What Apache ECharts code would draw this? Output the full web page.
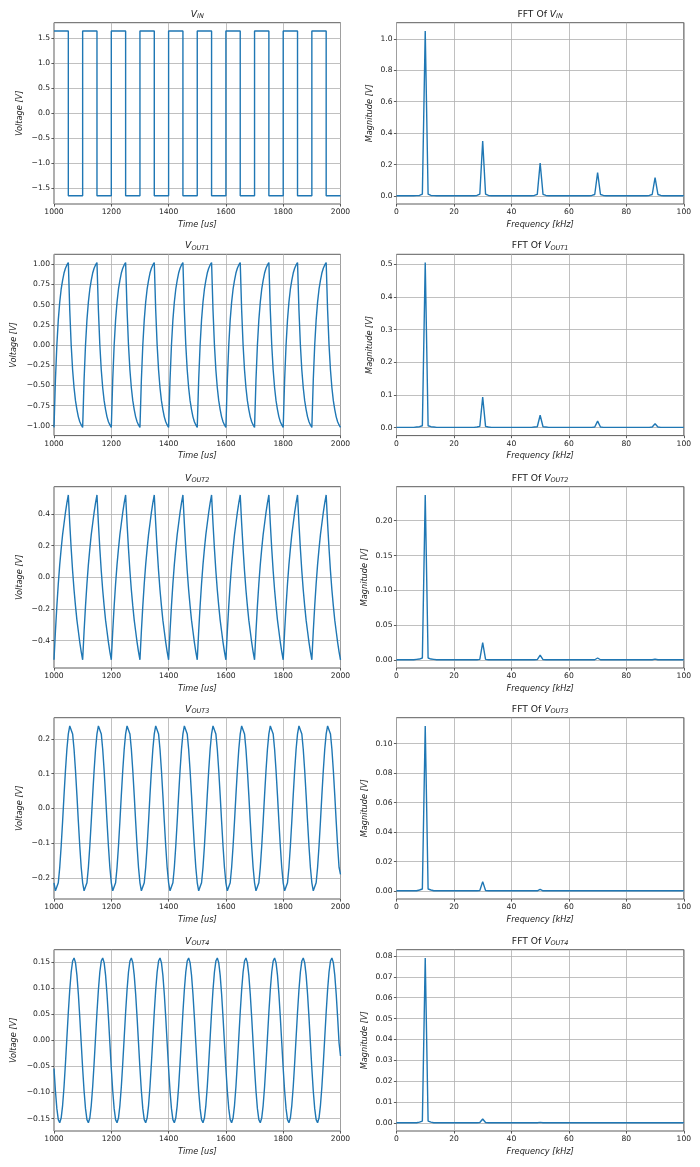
<!DOCTYPE html>
<html><head><meta charset="utf-8">
<script src="https://cdn.jsdelivr.net/npm/echarts@6/dist/echarts.min.js"></script>
<style>html,body{margin:0;padding:0;background:#fff}#c{width:700px;height:1167px}</style>
</head><body><div id="c"></div>
<script>
// ---------- time-domain data (us, V) ----------
const timeUs = [
1000,1005,1010,1015,1020,1025,1030,1035,1040,1045,1050,1055,1060,1065,1070,1075,1080,1085,1090,1095,
1100,1105,1110,1115,1120,1125,1130,1135,1140,1145,1150,1155,1160,1165,1170,1175,1180,1185,1190,1195,
1200,1205,1210,1215,1220,1225,1230,1235,1240,1245,1250,1255,1260,1265,1270,1275,1280,1285,1290,1295,
1300,1305,1310,1315,1320,1325,1330,1335,1340,1345,1350,1355,1360,1365,1370,1375,1380,1385,1390,1395,
1400,1405,1410,1415,1420,1425,1430,1435,1440,1445,1450,1455,1460,1465,1470,1475,1480,1485,1490,1495,
1500,1505,1510,1515,1520,1525,1530,1535,1540,1545,1550,1555,1560,1565,1570,1575,1580,1585,1590,1595,
1600,1605,1610,1615,1620,1625,1630,1635,1640,1645,1650,1655,1660,1665,1670,1675,1680,1685,1690,1695,
1700,1705,1710,1715,1720,1725,1730,1735,1740,1745,1750,1755,1760,1765,1770,1775,1780,1785,1790,1795,
1800,1805,1810,1815,1820,1825,1830,1835,1840,1845,1850,1855,1860,1865,1870,1875,1880,1885,1890,1895,
1900,1905,1910,1915,1920,1925,1930,1935,1940,1945,1950,1955,1960,1965,1970,1975,1980,1985,1990,1995,
2000];

const vinEdgeTimes = [1000,1050,1100,1150,1200,1250,1300,1350,1400,1450,1500,1550,1600,1650,1700,1750,1800,1850,1900,1950,2000];
const vinLevels = [1.65,-1.65,1.65,-1.65,1.65,-1.65,1.65,-1.65,1.65,-1.65,1.65,-1.65,1.65,-1.65,1.65,-1.65,1.65,-1.65,1.65,-1.65,-1.65];

const vout1 = [
-1.02,-0.43,0.00,0.31,0.53,0.69,0.80,0.89,0.95,0.99,1.02,0.43,0.00,-0.31,-0.53,-0.69,-0.80,-0.89,-0.95,-0.99,
-1.02,-0.43,0.00,0.31,0.53,0.69,0.80,0.89,0.95,0.99,1.02,0.43,0.00,-0.31,-0.53,-0.69,-0.80,-0.89,-0.95,-0.99,
-1.02,-0.43,0.00,0.31,0.53,0.69,0.80,0.89,0.95,0.99,1.02,0.43,0.00,-0.31,-0.53,-0.69,-0.80,-0.89,-0.95,-0.99,
-1.02,-0.43,0.00,0.31,0.53,0.69,0.80,0.89,0.95,0.99,1.02,0.43,0.00,-0.31,-0.53,-0.69,-0.80,-0.89,-0.95,-0.99,
-1.02,-0.43,0.00,0.31,0.53,0.69,0.80,0.89,0.95,0.99,1.02,0.43,0.00,-0.31,-0.53,-0.69,-0.80,-0.89,-0.95,-0.99,
-1.02,-0.43,0.00,0.31,0.53,0.69,0.80,0.89,0.95,0.99,1.02,0.43,0.00,-0.31,-0.53,-0.69,-0.80,-0.89,-0.95,-0.99,
-1.02,-0.43,0.00,0.31,0.53,0.69,0.80,0.89,0.95,0.99,1.02,0.43,0.00,-0.31,-0.53,-0.69,-0.80,-0.89,-0.95,-0.99,
-1.02,-0.43,0.00,0.31,0.53,0.69,0.80,0.89,0.95,0.99,1.02,0.43,0.00,-0.31,-0.53,-0.69,-0.80,-0.89,-0.95,-0.99,
-1.02,-0.43,0.00,0.31,0.53,0.69,0.80,0.89,0.95,0.99,1.02,0.43,0.00,-0.31,-0.53,-0.69,-0.80,-0.89,-0.95,-0.99,
-1.02,-0.43,0.00,0.31,0.53,0.69,0.80,0.89,0.95,0.99,1.02,0.43,0.00,-0.31,-0.53,-0.69,-0.80,-0.89,-0.95,-0.99,
-1.02];

const vout2 = [
-0.52,-0.34,-0.18,-0.04,0.08,0.18,0.27,0.34,0.41,0.47,0.52,0.34,0.18,0.04,-0.08,-0.18,-0.27,-0.34,-0.41,-0.47,
-0.52,-0.34,-0.18,-0.04,0.08,0.18,0.27,0.34,0.41,0.47,0.52,0.34,0.18,0.04,-0.08,-0.18,-0.27,-0.34,-0.41,-0.47,
-0.52,-0.34,-0.18,-0.04,0.08,0.18,0.27,0.34,0.41,0.47,0.52,0.34,0.18,0.04,-0.08,-0.18,-0.27,-0.34,-0.41,-0.47,
-0.52,-0.34,-0.18,-0.04,0.08,0.18,0.27,0.34,0.41,0.47,0.52,0.34,0.18,0.04,-0.08,-0.18,-0.27,-0.34,-0.41,-0.47,
-0.52,-0.34,-0.18,-0.04,0.08,0.18,0.27,0.34,0.41,0.47,0.52,0.34,0.18,0.04,-0.08,-0.18,-0.27,-0.34,-0.41,-0.47,
-0.52,-0.34,-0.18,-0.04,0.08,0.18,0.27,0.34,0.41,0.47,0.52,0.34,0.18,0.04,-0.08,-0.18,-0.27,-0.34,-0.41,-0.47,
-0.52,-0.34,-0.18,-0.04,0.08,0.18,0.27,0.34,0.41,0.47,0.52,0.34,0.18,0.04,-0.08,-0.18,-0.27,-0.34,-0.41,-0.47,
-0.52,-0.34,-0.18,-0.04,0.08,0.18,0.27,0.34,0.41,0.47,0.52,0.34,0.18,0.04,-0.08,-0.18,-0.27,-0.34,-0.41,-0.47,
-0.52,-0.34,-0.18,-0.04,0.08,0.18,0.27,0.34,0.41,0.47,0.52,0.34,0.18,0.04,-0.08,-0.18,-0.27,-0.34,-0.41,-0.47,
-0.52,-0.34,-0.18,-0.04,0.08,0.18,0.27,0.34,0.41,0.47,0.52,0.34,0.18,0.04,-0.08,-0.18,-0.27,-0.34,-0.41,-0.47,
-0.52];

const vout3 = [
-0.214,-0.237,-0.237,-0.214,-0.170,-0.109,-0.038,0.038,0.109,0.170,0.214,0.237,0.237,0.214,0.170,0.109,0.038,-0.038,-0.109,-0.170,
-0.214,-0.237,-0.237,-0.214,-0.170,-0.109,-0.038,0.038,0.109,0.170,0.214,0.237,0.237,0.214,0.170,0.109,0.038,-0.038,-0.109,-0.170,
-0.214,-0.237,-0.237,-0.214,-0.170,-0.109,-0.038,0.038,0.109,0.170,0.214,0.237,0.237,0.214,0.170,0.109,0.038,-0.038,-0.109,-0.170,
-0.214,-0.237,-0.237,-0.214,-0.170,-0.109,-0.038,0.038,0.109,0.170,0.214,0.237,0.237,0.214,0.170,0.109,0.038,-0.038,-0.109,-0.170,
-0.214,-0.237,-0.237,-0.214,-0.170,-0.109,-0.038,0.038,0.109,0.170,0.214,0.237,0.237,0.214,0.170,0.109,0.038,-0.038,-0.109,-0.170,
-0.214,-0.237,-0.237,-0.214,-0.170,-0.109,-0.038,0.038,0.109,0.170,0.214,0.237,0.237,0.214,0.170,0.109,0.038,-0.038,-0.109,-0.170,
-0.214,-0.237,-0.237,-0.214,-0.170,-0.109,-0.038,0.038,0.109,0.170,0.214,0.237,0.237,0.214,0.170,0.109,0.038,-0.038,-0.109,-0.170,
-0.214,-0.237,-0.237,-0.214,-0.170,-0.109,-0.038,0.038,0.109,0.170,0.214,0.237,0.237,0.214,0.170,0.109,0.038,-0.038,-0.109,-0.170,
-0.214,-0.237,-0.237,-0.214,-0.170,-0.109,-0.038,0.038,0.109,0.170,0.214,0.237,0.237,0.214,0.170,0.109,0.038,-0.038,-0.109,-0.170,
-0.214,-0.237,-0.237,-0.214,-0.170,-0.109,-0.038,0.038,0.109,0.170,0.214,0.237,0.237,0.214,0.170,0.109,0.038,-0.038,-0.109,-0.170,
-0.190];

const vout4 = [
-0.054,-0.097,-0.131,-0.152,-0.158,-0.149,-0.125,-0.089,-0.044,0.005,0.054,0.097,0.131,0.152,0.158,0.149,0.125,0.089,0.044,-0.005,
-0.054,-0.097,-0.131,-0.152,-0.158,-0.149,-0.125,-0.089,-0.044,0.005,0.054,0.097,0.131,0.152,0.158,0.149,0.125,0.089,0.044,-0.005,
-0.054,-0.097,-0.131,-0.152,-0.158,-0.149,-0.125,-0.089,-0.044,0.005,0.054,0.097,0.131,0.152,0.158,0.149,0.125,0.089,0.044,-0.005,
-0.054,-0.097,-0.131,-0.152,-0.158,-0.149,-0.125,-0.089,-0.044,0.005,0.054,0.097,0.131,0.152,0.158,0.149,0.125,0.089,0.044,-0.005,
-0.054,-0.097,-0.131,-0.152,-0.158,-0.149,-0.125,-0.089,-0.044,0.005,0.054,0.097,0.131,0.152,0.158,0.149,0.125,0.089,0.044,-0.005,
-0.054,-0.097,-0.131,-0.152,-0.158,-0.149,-0.125,-0.089,-0.044,0.005,0.054,0.097,0.131,0.152,0.158,0.149,0.125,0.089,0.044,-0.005,
-0.054,-0.097,-0.131,-0.152,-0.158,-0.149,-0.125,-0.089,-0.044,0.005,0.054,0.097,0.131,0.152,0.158,0.149,0.125,0.089,0.044,-0.005,
-0.054,-0.097,-0.131,-0.152,-0.158,-0.149,-0.125,-0.089,-0.044,0.005,0.054,0.097,0.131,0.152,0.158,0.149,0.125,0.089,0.044,-0.005,
-0.054,-0.097,-0.131,-0.152,-0.158,-0.149,-0.125,-0.089,-0.044,0.005,0.054,0.097,0.131,0.152,0.158,0.149,0.125,0.089,0.044,-0.005,
-0.054,-0.097,-0.131,-0.152,-0.158,-0.149,-0.125,-0.089,-0.044,0.005,0.054,0.097,0.131,0.152,0.158,0.149,0.125,0.089,0.044,-0.005,
-0.030];

// ---------- spectra (kHz, V) ----------
const freqKHz = [
0,1,2,3,4,5,6,7,8,9,10,11,12,13,14,15,16,17,18,19,20,21,22,23,24,25,26,27,28,29,
30,31,32,33,34,35,36,37,38,39,40,41,42,43,44,45,46,47,48,49,50,51,52,53,54,55,56,57,58,59,
60,61,62,63,64,65,66,67,68,69,70,71,72,73,74,75,76,77,78,79,80,81,82,83,84,85,86,87,88,89,
90,91,92,93,94,95,96,97,98,99,100];

const fftVin = [
0.002,0.002,0.002,0.002,0.002,0.002,0.002,0.003,0.004,0.012,
1.05,0.012,0.004,0.003,0.002,0.002,0.002,0.002,0.002,0.002,
0.002,0.002,0.002,0.002,0.002,0.002,0.002,0.002,0.004,0.012,
0.35,0.012,0.004,0.002,0.002,0.002,0.002,0.002,0.002,0.002,
0.002,0.002,0.002,0.002,0.002,0.002,0.002,0.002,0.004,0.011,
0.21,0.011,0.004,0.002,0.002,0.002,0.002,0.002,0.002,0.002,
0.002,0.002,0.002,0.002,0.002,0.002,0.002,0.002,0.004,0.010,
0.15,0.010,0.004,0.002,0.002,0.002,0.002,0.002,0.002,0.002,
0.002,0.002,0.002,0.002,0.002,0.002,0.002,0.002,0.004,0.010,
0.117,0.010,0.004,0.002,0.002,0.002,0.002,0.002,0.002,0.002,
0.002];

const fftVout1 = [
0.001,0.001,0.001,0.001,0.001,0.001,0.001,0.002,0.003,0.006,
0.505,0.006,0.003,0.002,0.001,0.001,0.001,0.001,0.001,0.001,
0.001,0.001,0.001,0.001,0.001,0.001,0.001,0.001,0.002,0.004,
0.094,0.004,0.002,0.001,0.001,0.001,0.001,0.001,0.001,0.001,
0.001,0.001,0.001,0.001,0.001,0.001,0.001,0.001,0.002,0.003,
0.038,0.003,0.002,0.001,0.001,0.001,0.001,0.001,0.001,0.001,
0.001,0.001,0.001,0.001,0.001,0.001,0.001,0.001,0.001,0.002,
0.020,0.002,0.001,0.001,0.001,0.001,0.001,0.001,0.001,0.001,
0.001,0.001,0.001,0.001,0.001,0.001,0.001,0.001,0.001,0.002,
0.012,0.002,0.001,0.001,0.001,0.001,0.001,0.001,0.001,0.001,
0.001];

const fftVout2 = [
0.0005,0.0005,0.0005,0.0005,0.0005,0.0005,0.0005,0.001,0.0015,0.003,
0.237,0.003,0.0015,0.001,0.0005,0.0005,0.0005,0.0005,0.0005,0.0005,
0.0005,0.0005,0.0005,0.0005,0.0005,0.0005,0.0005,0.0005,0.0005,0.001,
0.025,0.001,0.0005,0.0005,0.0005,0.0005,0.0005,0.0005,0.0005,0.0005,
0.0005,0.0005,0.0005,0.0005,0.0005,0.0005,0.0005,0.0005,0.0005,0.0007,
0.007,0.0007,0.0005,0.0005,0.0005,0.0005,0.0005,0.0005,0.0005,0.0005,
0.0005,0.0005,0.0005,0.0005,0.0005,0.0005,0.0005,0.0005,0.0005,0.0005,
0.003,0.0005,0.0005,0.0005,0.0005,0.0005,0.0005,0.0005,0.0005,0.0005,
0.0005,0.0005,0.0005,0.0005,0.0005,0.0005,0.0005,0.0005,0.0005,0.0005,
0.0015,0.0005,0.0005,0.0005,0.0005,0.0005,0.0005,0.0005,0.0005,0.0005,
0.0005];

const fftVout3 = [
0.0003,0.0003,0.0003,0.0003,0.0003,0.0003,0.0003,0.0003,0.0008,0.0015,
0.112,0.0015,0.0008,0.0003,0.0003,0.0003,0.0003,0.0003,0.0003,0.0003,
0.0003,0.0003,0.0003,0.0003,0.0003,0.0003,0.0003,0.0003,0.0003,0.0005,
0.0065,0.0005,0.0003,0.0003,0.0003,0.0003,0.0003,0.0003,0.0003,0.0003,
0.0003,0.0003,0.0003,0.0003,0.0003,0.0003,0.0003,0.0003,0.0003,0.0003,
0.0013,0.0003,0.0003,0.0003,0.0003,0.0003,0.0003,0.0003,0.0003,0.0003,
0.0003,0.0003,0.0003,0.0003,0.0003,0.0003,0.0003,0.0003,0.0003,0.0003,
0.0004,0.0003,0.0003,0.0003,0.0003,0.0003,0.0003,0.0003,0.0003,0.0003,
0.0003,0.0003,0.0003,0.0003,0.0003,0.0003,0.0003,0.0003,0.0003,0.0003,
0.0003,0.0003,0.0003,0.0003,0.0003,0.0003,0.0003,0.0003,0.0003,0.0003,
0.0003];

const fftVout4 = [
0.0002,0.0002,0.0002,0.0002,0.0002,0.0002,0.0002,0.0002,0.0005,0.001,
0.079,0.001,0.0005,0.0002,0.0002,0.0002,0.0002,0.0002,0.0002,0.0002,
0.0002,0.0002,0.0002,0.0002,0.0002,0.0002,0.0002,0.0002,0.0002,0.0003,
0.002,0.0003,0.0002,0.0002,0.0002,0.0002,0.0002,0.0002,0.0002,0.0002,
0.0002,0.0002,0.0002,0.0002,0.0002,0.0002,0.0002,0.0002,0.0002,0.0002,
0.0004,0.0002,0.0002,0.0002,0.0002,0.0002,0.0002,0.0002,0.0002,0.0002,
0.0002,0.0002,0.0002,0.0002,0.0002,0.0002,0.0002,0.0002,0.0002,0.0002,
0.0002,0.0002,0.0002,0.0002,0.0002,0.0002,0.0002,0.0002,0.0002,0.0002,
0.0002,0.0002,0.0002,0.0002,0.0002,0.0002,0.0002,0.0002,0.0002,0.0002,
0.0002,0.0002,0.0002,0.0002,0.0002,0.0002,0.0002,0.0002,0.0002,0.0002,
0.0002];

// ---------- tick labels ----------
const timeTicks = [1000,1200,1400,1600,1800,2000];
const freqTicks = [0,20,40,60,80,100];
const vinTicks = [-1.5,-1.0,-0.5,0,0.5,1.0,1.5];
const vout1Ticks = [-1.0,-0.75,-0.5,-0.25,0,0.25,0.5,0.75,1.0];
const vout2Ticks = [-0.4,-0.2,0,0.2,0.4];
const vout3Ticks = [-0.2,-0.1,0,0.1,0.2];
const vout4Ticks = [-0.15,-0.10,-0.05,0,0.05,0.10,0.15];
const fftVinTicks = [0,0.2,0.4,0.6,0.8,1.0];
const fftVout1Ticks = [0,0.1,0.2,0.3,0.4,0.5];
const fftVout2Ticks = [0,0.05,0.10,0.15,0.20];
const fftVout3Ticks = [0,0.02,0.04,0.06,0.08,0.10];
const fftVout4Ticks = [0,0.01,0.02,0.03,0.04,0.05,0.06,0.07,0.08];

// ---------- layout / style ----------
const FONT = 'DejaVu Sans';
const LINE = '#1f77b4';
const TXT = '#222';
const rowTops = [22.7, 254.3, 486.7, 717.7, 949.7];
const rowH = 181.3;
const colLeft = [54, 396.5];
const colW = [286.5, 287.3];

const panels = [
  {r:0,c:0,x:vinEdgeTimes,y:vinLevels,step:'end',sub:'IN',ticks:vinTicks,dec:1,gap:30},
  {r:0,c:1,x:freqKHz,y:fftVin,sub:'IN',ticks:fftVinTicks,dec:1,gap:23,fft:true},
  {r:1,c:0,x:timeUs,y:vout1,sub:'OUT1',ticks:vout1Ticks,dec:2,gap:36},
  {r:1,c:1,x:freqKHz,y:fftVout1,sub:'OUT1',ticks:fftVout1Ticks,dec:1,gap:23,fft:true},
  {r:2,c:0,x:timeUs,y:vout2,sub:'OUT2',ticks:vout2Ticks,dec:1,gap:30},
  {r:2,c:1,x:freqKHz,y:fftVout2,sub:'OUT2',ticks:fftVout2Ticks,dec:2,gap:28,fft:true},
  {r:3,c:0,x:timeUs,y:vout3,sub:'OUT3',ticks:vout3Ticks,dec:1,gap:30},
  {r:3,c:1,x:freqKHz,y:fftVout3,sub:'OUT3',ticks:fftVout3Ticks,dec:2,gap:28,fft:true},
  {r:4,c:0,x:timeUs,y:vout4,sub:'OUT4',ticks:vout4Ticks,dec:2,gap:36},
  {r:4,c:1,x:freqKHz,y:fftVout4,sub:'OUT4',ticks:fftVout4Ticks,dec:2,gap:28,fft:true}
];

const grids = [], xAxes = [], yAxes = [], series = [], graphics = [];
const fmtY = dec => v => (Math.abs(v) < 1e-12 ? 0 : v).toFixed(dec).replace('-', '\u2212');

panels.forEach((p, i) => {
  const lo = Math.min(...p.y), hi = Math.max(...p.y), span = hi - lo;
  grids.push({left: colLeft[p.c], top: rowTops[p.r], width: colW[p.c], height: rowH,
    show: true, borderColor: '#333', borderWidth: 0.8, backgroundColor: 'transparent', containLabel: false});
  xAxes.push({
    type: 'value', gridIndex: i,
    min: p.fft ? freqTicks[0] : timeTicks[0],
    max: p.fft ? freqTicks[freqTicks.length-1] : timeTicks[timeTicks.length-1],
    interval: p.fft ? 20 : 200,
    name: p.fft ? 'Frequency [kHz]' : 'Time [us]',
    nameLocation: 'middle', nameGap: 16.5,
    nameTextStyle: {fontFamily: FONT, fontStyle: 'italic', fontSize: 8.2, color: TXT},
    axisLine: {show: false, onZero: false},
    axisTick: {show: true, inside: false, length: 2.6, lineStyle: {color: '#333', width: 0.8}},
    axisLabel: {fontFamily: FONT, fontSize: 7.6, color: TXT, margin: 4.5, hideOverlap: false,
      showMinLabel: true, showMaxLabel: true, formatter: v => String(Math.round(v))},
    splitLine: {show: true, lineStyle: {color: '#b0b0b0', width: 0.8}}
  });
  yAxes.push({
    type: 'value', gridIndex: i,
    min: lo - 0.05 * span, max: hi + 0.05 * span,
    name: p.fft ? 'Magnitude [V]' : 'Voltage [V]',
    nameLocation: 'middle', nameGap: p.gap, nameRotate: 90,
    nameTextStyle: {fontFamily: FONT, fontStyle: 'italic', fontSize: 8.2, color: TXT},
    axisLine: {show: false, onZero: false},
    axisTick: {show: true, inside: false, length: 2.6, customValues: p.ticks, lineStyle: {color: '#333', width: 0.8}},
    axisLabel: {fontFamily: FONT, fontSize: 7.6, color: TXT, margin: 4, customValues: p.ticks,
      formatter: fmtY(p.dec), hideOverlap: false},
    splitLine: {show: true, lineStyle: {color: '#b0b0b0', width: 0.8}}
  });
  series.push({
    type: 'line', xAxisIndex: i, yAxisIndex: i,
    data: p.x.map((t, k) => [t, p.y[k]]),
    step: p.step || false,
    showSymbol: false, symbol: 'none', smooth: false,
    lineStyle: {color: LINE, width: 1.4},
    emphasis: {disabled: true}, animation: false, silent: true
  });
  const cx = colLeft[p.c] + colW[p.c] / 2;
  const txt = (p.fft ? '{n|FFT Of }' : '') + '{v|V}{s|' + p.sub + '}';
  graphics.push({
    type: 'text', x: cx, y: rowTops[p.r] - 2.5, silent: true,
    style: {
      text: txt, align: 'center', verticalAlign: 'bottom', textAlign: 'center', textVerticalAlign: 'bottom',
      rich: {
        n: {fontFamily: FONT, fontSize: 9.2, lineHeight: 12, fill: TXT, color: TXT},
        v: {fontFamily: FONT, fontStyle: 'italic', fontSize: 9.2, lineHeight: 12, fill: TXT, color: TXT},
        s: {fontFamily: FONT, fontStyle: 'italic', fontSize: 6.5, lineHeight: 6, verticalAlign: 'bottom', fill: TXT, color: TXT}
      }
    }
  });
});

const chart = echarts.init(document.getElementById('c'), null, {renderer: 'canvas'});
chart.setOption({
  backgroundColor: '#fff',
  animation: false,
  grid: grids, xAxis: xAxes, yAxis: yAxes, series: series, graphic: graphics
});
</script></body></html>
